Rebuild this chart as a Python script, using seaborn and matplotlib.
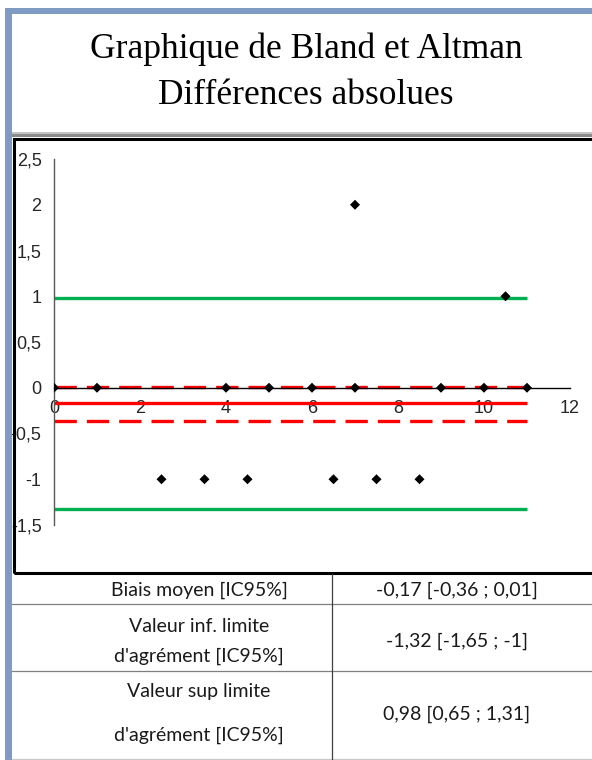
import numpy as np
import pandas as pd
import matplotlib
matplotlib.use("Agg")
import matplotlib.pyplot as plt
from matplotlib.patches import Rectangle
from matplotlib.lines import Line2D
import seaborn as sns

# --- data ---
means = [0, 1, 4, 5, 6, 7, 9, 10, 11, 2.5, 3.5, 4.5, 6.5, 7.5, 8.5, 7, 10.5]
diffs = [0, 0, 0, 0, 0, 0, 0, 0, 0, -1, -1, -1, -1, -1, -1, 2, 1]
bias = -0.17
bias_ci = [-0.36, 0.01]
loa_low = -1.32
loa_high = 0.98
yticks = [-1.5, -1, -0.5, 0, 0.5, 1, 1.5, 2, 2.5]
ytick_labels = ["-1,5", "-1", "-0,5", "0", "0,5", "1", "1,5", "2", "2,5"]
xticks = [0, 2, 4, 6, 8, 10, 12]
title_lines = ["Graphique de Bland et Altman", "Différences absolues"]
table_left = [["Biais moyen [IC95%]"],
              ["Valeur inf. limite", "d'agrément [IC95%]"],
              ["Valeur sup limite", "d'agrément [IC95%]"]]
table_right = ["-0,17 [-0,36 ; 0,01]", "-1,32 [-1,65 ; -1]", "0,98 [0,65 ; 1,31]"]

W, H = 592, 760
RED = "#FF0000"
GREEN = "#00B050"
BLUE = "#7F9BC4"

sns.set_theme(style="white")
plt.rcParams["font.family"] = ["Liberation Sans", "DejaVu Sans"]

fig = plt.figure(figsize=(W / 100, H / 100), dpi=100)
fig.patch.set_facecolor("white")


def fx(x):
    return x / W


def fy(y):
    return 1 - y / H


def rect(x0, y0, x1, y1, **kw):
    fig.add_artist(Rectangle((fx(x0), fy(y1)), fx(x1) - fx(x0), fy(y0) - fy(y1),
                             transform=fig.transFigure, **kw))


def hline(y, x0, x1, color, lw):
    fig.add_artist(Line2D([fx(x0), fx(x1)], [fy(y), fy(y)], transform=fig.transFigure,
                          color=color, lw=lw))


# frame decorations
rect(5, 8, 12, H, facecolor=BLUE, edgecolor="none")
rect(5, 8, W, 14, facecolor=BLUE, edgecolor="none")
rect(12, 132, W, 134, facecolor="#C4C4C4", edgecolor="none")
rect(12, 134, W, 137, facecolor="#8C8C8C", edgecolor="none")
rect(13.5, 138.5, W + 20, 572.5, facecolor="none", edgecolor="black", lw=2.2)

# title
fig.text(fx(306), fy(49), title_lines[0], ha="center", va="center",
         fontsize=25.5, family="Liberation Serif", color="black")
fig.text(fx(306), fy(96), title_lines[1], ha="center", va="center",
         fontsize=25.5, family="Liberation Serif", color="black")

# chart
ax = fig.add_axes([fx(54), fy(525), fx(570) - fx(54), fy(159) - fy(525)])
ax.set_facecolor("none")

xmin, xmax = min(means), max(means)
ax.hlines(loa_high, xmin, xmax, color=GREEN, lw=2.4, zorder=2)
ax.hlines(loa_low, xmin, xmax, color=GREEN, lw=2.4, zorder=2)
ax.hlines(bias, xmin, xmax, color=RED, lw=2.4, zorder=2)
for ci in bias_ci:
    ax.hlines(ci, xmin, xmax, color=RED, lw=2.4, linestyles=(0, (6.7, 3.0)), zorder=2)

df = pd.DataFrame({"mean": means, "diff": diffs})
sns.scatterplot(data=df, x="mean", y="diff", marker="D", color="black", s=26,
                edgecolor="none", ax=ax, zorder=5)

ax.set_xlim(0, 12)
ax.set_ylim(-1.5, 2.5)
ax.set_xticks(xticks)
ax.set_xticklabels([str(t) for t in xticks])
ax.set_yticks(yticks)
ax.set_yticklabels(ytick_labels)
ax.set_xlabel("")
ax.set_ylabel("")
for s in ["top", "right"]:
    ax.spines[s].set_visible(False)
ax.spines["bottom"].set_position(("data", 0))
ax.spines["bottom"].set_color("black")
ax.spines["left"].set_color("#595959")
ax.spines["bottom"].set_linewidth(1.0)
ax.spines["left"].set_linewidth(1.0)
ax.tick_params(axis="both", direction="out", length=4, width=1, colors="#595959",
               labelcolor="#262626", labelsize=13)
ax.tick_params(axis="x", pad=5, colors="black", labelcolor="#262626")
ax.tick_params(axis="y", pad=5)
ax.spines["bottom"].set_zorder(3)

# table
hline(603.5, 12, W, "#7F7F7F", 0.9)
hline(671, 12, W, "#7F7F7F", 0.9)
hline(759, 12, W, "#C8C8C8", 0.9)
fig.add_artist(Line2D([fx(332), fx(332)], [fy(574), fy(H)], transform=fig.transFigure,
                      color="#404040", lw=0.9))
left_line_y = [[590], [626, 656], [692, 735]]
right_y = [590, 641, 714]
for ys, lines, yy, rt in zip(left_line_y, table_left, right_y, table_right):
    for ly, txt in zip(ys, lines):
        fig.text(fx(199), fy(ly), txt, ha="center", va="center", fontsize=14,
                 family="Lato", color="#1a1a1a")
    fig.text(fx(457), fy(yy), rt, ha="center", va="center", fontsize=14,
             family="Lato", color="#1a1a1a")

fig.savefig("out.png", dpi=100)
